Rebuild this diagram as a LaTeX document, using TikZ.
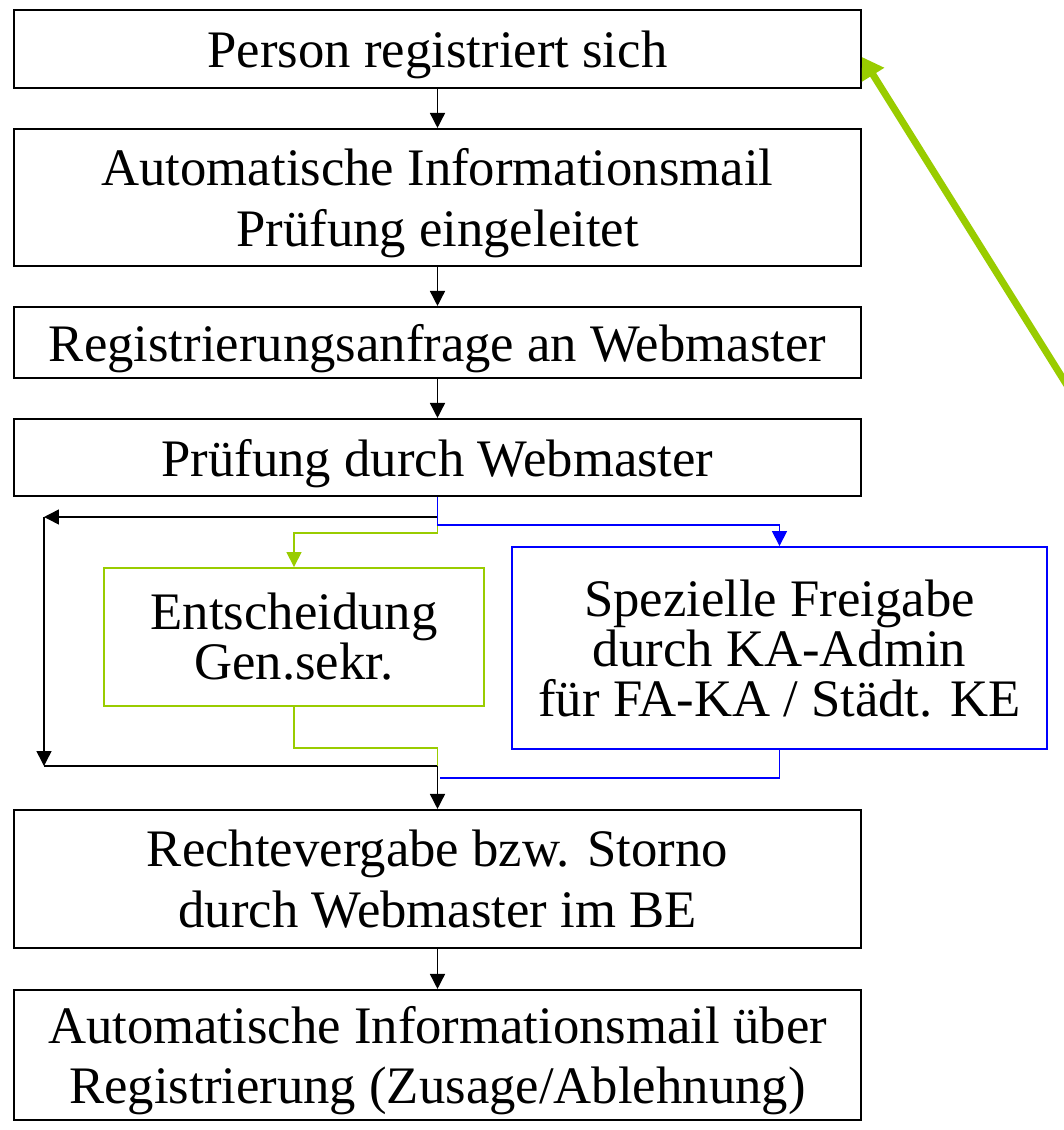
\documentclass[tikz,border=0pt]{standalone}
\usepackage{fontspec}
\setmainfont{Liberation Serif}
\usetikzlibrary{arrows.meta}
\definecolor{lgreen}{RGB}{153,204,0}

\tikzset{
  box/.style={draw, line width=1.2pt, inner sep=0pt, align=center, text depth=0pt,
    minimum width=16.94cm, font=\fontsize{30}{34.5}\selectfont},
  gbox/.style={draw=lgreen, line width=1.1pt, inner sep=0pt, align=center,
    font=\fontsize{30}{28.5}\selectfont},
  bbox/.style={draw=blue, line width=1.1pt, inner sep=0pt, align=center, text depth=0pt,
    font=\fontsize{30}{28.5}\selectfont},
  arr/.style={line width=0.85pt, -{Triangle[length=0.3cm,width=0.3cm]}},
  ln/.style={line width=0.85pt}
}

\begin{document}
\begin{tikzpicture}[x=0.02cm, y=-0.02cm]
	\useasboundingbox (0,0) rectangle (1063,1130);
	\node[box, minimum height=1.56cm] (person)at(437.5,49) {Person registriert sich};
	\node[box, minimum height=2.74cm] (infomail)at(437.5,197.5) {Automatische Informationsmail\\Prüfung eingeleitet};
	\node[box, minimum height=1.42cm] (anfrage)at(437.5,342.5) {Registrierungsanfrage an Webmaster};
	\node[box, minimum height=1.54cm] (pruefung)at(437.5,457.5) {Prüfung durch Webmaster};
	\node[gbox, minimum width=7.6cm, minimum height=2.76cm] (entscheid)at(294,637) {Entscheidung\\Gen.sekr.};
	\node[bbox, minimum width=10.7cm, minimum height=4.04cm] (freigabe)at(779.5,648) {Spezielle Freigabe\\durch KA-Admin\\für FA-KA / Städt. KE};
	\node[box, minimum height=2.76cm] (rechte)at(437.5,879) {Rechtevergabe bzw. Storno\\durch Webmaster im BE};
	\node[box, minimum height=2.6cm] (ergebnis)at(437.5,1055) {Automatische Informationsmail über\\Registrierung (Zusage/Ablehnung)};

	\coordinate (jl)at(44,517);
	\coordinate (jb)at(44,766);
	\coordinate (jm)at(437.5,766);
	\coordinate (bm)at(440,778);
	\coordinate (gs)at(1090,422);

	\draw[arr] (person) -- (infomail);
	\draw[arr] (infomail) -- (anfrage);
	\draw[arr] (anfrage) -- (pruefung);

	\draw[arr] (pruefung.south) |- (jl);
	\draw[arr] (jl) -- (jb);
	\draw[ln] (jb) -- (jm);
	\draw[arr] (jm) -- (rechte.north);

	\draw[arr, lgreen] (pruefung.south) -- ++(0,36) -| (entscheid.north);
	\draw[ln, lgreen] (entscheid.south) -- ++(0,41) -| (jm);
	\draw[arr, blue] (pruefung.south) -- ++(0,28) -| (freigabe.north);
	\draw[ln, blue] (freigabe.south) |- (bm);

	\draw[arr] (rechte) -- (ergebnis);

	\draw[lgreen, line width=4pt, -{Triangle[length=0.42cm,width=0.5cm]}] (gs) -- ([yshift=-0.16cm]person.east);
\end{tikzpicture}
\end{document}
